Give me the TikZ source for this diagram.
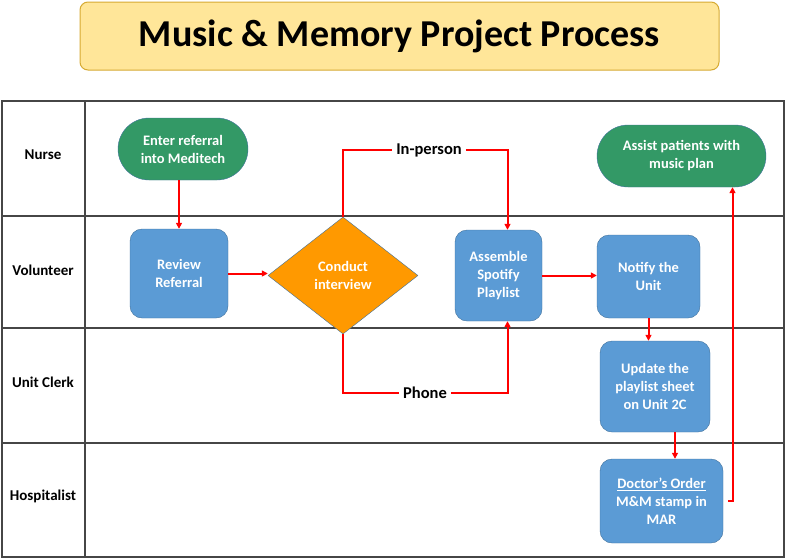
\documentclass[tikz,border=0pt]{standalone}
\usepackage{fontspec}
\setmainfont{Carlito}
\usetikzlibrary{shapes.geometric,arrows.meta,positioning,calc}
\definecolor{titleyellow}{RGB}{255,230,153}
\definecolor{titleborder}{RGB}{214,170,50}
\definecolor{stepblue}{RGB}{91,155,213}
\definecolor{edgeblue}{RGB}{65,113,156}
\definecolor{termgreen}{RGB}{51,153,102}
\definecolor{decorange}{RGB}{255,153,0}
\definecolor{gridgrey}{RGB}{70,70,70}

\tikzset{
  lane/.style={font=\fontsize{15}{17}\selectfont\bfseries},
  task/.style={draw=edgeblue, fill=stepblue, rounded corners=12pt, text=white, align=center,
    font=\fontsize{14.5}{18}\selectfont\bfseries, inner sep=2pt},
  term/.style={task, fill=termgreen, rounded corners=31pt},
  decide/.style={diamond, draw=edgeblue, fill=decorange, text=white, align=center,
    font=\fontsize{14.5}{18}\selectfont\bfseries, inner sep=0pt},
  flow/.style={draw=red, line width=2pt, -{Triangle[length=6pt,width=6pt]}},
  branch/.style={fill=white, font=\fontsize{16.5}{18}\selectfont\bfseries, inner sep=4pt}
}

\begin{document}
\begin{tikzpicture}[x=1pt, y=-1pt]
    \useasboundingbox (0,0) rectangle (785,558);
    % title
    \node[draw=titleborder, fill=titleyellow, rounded corners=8pt, line width=1pt,
      minimum width=639pt, minimum height=68pt, font=\fontsize{38}{40}\selectfont\bfseries] (title) at (399.5,36) {Music \& Memory Project Process};
    % swimlanes
    \draw[gridgrey, line width=1.4pt] (2,101) rectangle (784,557);
    \draw[gridgrey, line width=1.2pt] (85,101) -- (85,557);
    \foreach \y in {216,328,443}
        \draw[gridgrey, line width=1.2pt] (2,\y) -- (784,\y);
    \node[lane] (nurse) at (43,155) {Nurse};
    \node[lane] (volunteer) at (43,270) {Volunteer};
    \node[lane] (clerk) at (43,382) {Unit Clerk};
    \node[lane] (hosp) at (43,496) {Hospitalist};

    % steps
    \node[term, minimum width=130pt, minimum height=62pt] (enter) at (183,149) {Enter referral\\into Meditech};
    \node[task, minimum width=98pt, minimum height=89pt] (review) at (179,273.5) {Review\\Referral};
    \node[decide, minimum width=150pt, minimum height=117pt] (cond) at (343,275.5) {Conduct\\interview};
    \node[task, minimum width=87pt, minimum height=91pt] (assemble) at (498.5,275.5) {Assemble\\Spotify\\Playlist};
    \node[task, minimum width=103pt, minimum height=83pt] (notify) at (648.5,276.5) {Notify the\\Unit};
    \node[term, minimum width=169pt, minimum height=62pt] (assist) at (681.5,156) {Assist patients with\\music plan};
    \node[task, minimum width=110pt, minimum height=91pt] (update) at (655,386.5) {Update the\\playlist sheet\\on Unit 2C};
    \node[task, minimum width=123pt, minimum height=84pt] (doctor) at (661.5,501) {\underline{Doctor’s Order}\\M\&M stamp in\\MAR};

    \node[branch] (inperson) at (429,150) {In-person};
    \node[branch] (phone) at (425,393) {Phone};

    % connectors
    \draw[flow] (review.north |- enter.south) -- (review.north);
    \draw[flow] (review.east) -- (review.east -| cond.west);
    \draw[flow, -] (cond.north) |- (inperson);
    \draw[flow] (inperson) -| ([xshift=9pt]assemble.north);
    \draw[flow, -] (cond.south) |- (phone);
    \draw[flow] (phone) -| ([xshift=9pt]assemble.south);
    \draw[flow] (assemble.east) -- (assemble.east -| notify.west);
    \draw[flow] (notify.south) -- (notify.south |- update.north);
    \draw[flow] ([xshift=20pt]update.south) -- ([xshift=20pt]update.south |- doctor.north);
    \draw[flow, shorten <=5pt] (doctor.east) -| ([xshift=51pt]assist.south);
\end{tikzpicture}
\end{document}
